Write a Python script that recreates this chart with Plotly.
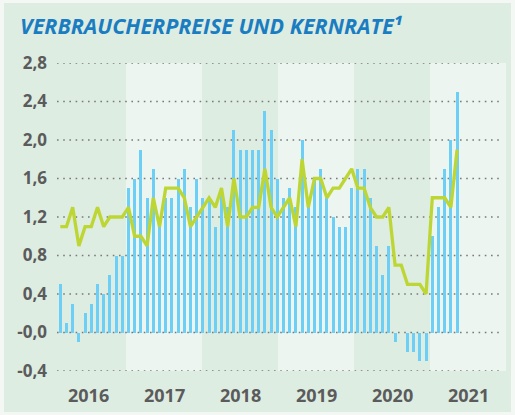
import plotly.graph_objects as go

# Monthly figures, Jan 2016 - May 2021 (year-on-year change in %)
months = [f"{y}-{m:02d}" for y in range(2016, 2022) for m in range(1, 13)][:65]

verbraucherpreise = [
    0.5, 0.1, 0.3, -0.1, 0.2, 0.3, 0.5, 0.4, 0.6, 0.8, 0.8, 1.5,   # 2016
    1.6, 1.9, 1.4, 1.7, 1.1, 1.4, 1.4, 1.6, 1.7, 1.3, 1.6, 1.4,    # 2017
    1.4, 1.1, 1.5, 1.3, 2.1, 1.9, 1.9, 1.9, 1.9, 2.3, 2.1, 1.6,    # 2018
    1.4, 1.5, 1.3, 2.0, 1.3, 1.6, 1.7, 1.4, 1.2, 1.1, 1.1, 1.5,    # 2019
    1.7, 1.7, 1.4, 0.9, 0.6, 0.9, -0.1, 0.0, -0.2, -0.2, -0.3, -0.3,  # 2020
    1.0, 1.3, 1.7, 2.0, 2.5,                                        # 2021
]

kernrate = [
    1.1, 1.1, 1.3, 0.9, 1.1, 1.1, 1.3, 1.1, 1.2, 1.2, 1.2, 1.3,
    1.0, 1.0, 0.9, 1.4, 1.1, 1.5, 1.5, 1.5, 1.4, 1.1, 1.2, 1.3,
    1.4, 1.3, 1.5, 1.1, 1.6, 1.2, 1.2, 1.3, 1.3, 1.7, 1.3, 1.2,
    1.3, 1.4, 1.1, 1.8, 1.3, 1.6, 1.6, 1.4, 1.5, 1.5, 1.6, 1.7,
    1.5, 1.5, 1.3, 1.2, 1.2, 1.3, 0.7, 0.7, 0.5, 0.5, 0.5, 0.4,
    1.4, 1.4, 1.4, 1.3, 1.9,
]

years = ["2016", "2017", "2018", "2019", "2020", "2021"]
y_ticks = [-0.4, 0.0, 0.4, 0.8, 1.2, 1.6, 2.0, 2.4, 2.8]
y_tick_text = ["-0,4", "-0,0", "0,4", "0,8", "1,2", "1,6", "2,0", "2,4", "2,8"]

FONT = "Open Sans"
GREY = "#5b5b5b"
DARK_BG = "#deede2"
LIGHT_BG = "#edf5f0"
FRAME = "#f3f8f5"

x_idx = list(range(len(months)))

fig = go.Figure()
fig.add_trace(go.Bar(
    x=x_idx, y=verbraucherpreise, width=0.5,
    marker=dict(color="#6dcff6", line=dict(width=0)),
    customdata=months, name="Verbraucherpreise",
))
fig.add_trace(go.Scatter(
    x=x_idx, y=kernrate, mode="lines",
    line=dict(color="#bdd634", width=3.3),
    customdata=months, name="Kernrate",
))

shapes = []
# outer panel (slightly inset from the page edge)
W, H = 515, 415
ml, mr, mt, mb = 50, 9, 63, 44
pw, ph = W - ml - mr, H - mt - mb
shapes.append(dict(
    type="rect", xref="paper", yref="paper",
    x0=(4 - ml) / pw, x1=(511 - ml) / pw,
    y0=-(412 - (H - mb)) / ph, y1=1 + (mt - 3) / ph,
    fillcolor=DARK_BG, line=dict(width=0), layer="below",
))
# alternating year bands
for i in range(len(years)):
    if i % 2 == 1:
        shapes.append(dict(
            type="rect", xref="x domain", yref="y domain",
            x0=i / len(years), x1=(i + 1) / len(years), y0=0, y1=1,
            fillcolor=LIGHT_BG, line=dict(width=0), layer="below",
        ))
# dotted horizontal grid
for v in y_ticks:
    shapes.append(dict(
        type="line", xref="x domain", yref="y",
        x0=7 / pw, x1=452 / pw, y0=v, y1=v,
        line=dict(color="#7a7a7a", width=1.6, dash="1.6px,4.6px"), layer="below",
    ))

annotations = []
for i, yr in enumerate(years):
    annotations.append(dict(
        text=yr, xref="x domain", yref="y domain",
        x=(i + 0.5) / len(years), y=0, yshift=-24,
        xanchor="center", yanchor="middle", showarrow=False,
        font=dict(family=FONT, size=18, color=GREY, weight="bold"),
    ))

fig.update_layout(
    width=W, height=H,
    margin=dict(l=ml, r=mr, t=mt, b=mb, pad=0),
    paper_bgcolor=FRAME, plot_bgcolor="rgba(0,0,0,0)",
    showlegend=False,
    bargap=0,
    title=dict(
        text="VERBRAUCHERPREISE UND KERNRATE¹",
        xref="container", yref="container",
        x=20 / W, xanchor="left", y=1 - 26 / H, yanchor="middle",
        font=dict(family=FONT, size=21.5, color="#1b7dc1", weight="bold", style="italic"),
    ),
    xaxis=dict(
        range=[-1.66, 71.89], showticklabels=False, showgrid=False,
        zeroline=False, showline=False, ticks="", fixedrange=True,
    ),
    yaxis=dict(
        range=[-0.4, 2.8], tickvals=y_ticks, ticktext=y_tick_text,
        showgrid=False, zeroline=False, showline=False, ticks="",
        tickfont=dict(family=FONT, size=17, color=GREY, weight="bold"),
        ticklabelstandoff=2, fixedrange=True,
    ),
    shapes=shapes,
    annotations=annotations,
)

fig.write_html("out.html")
